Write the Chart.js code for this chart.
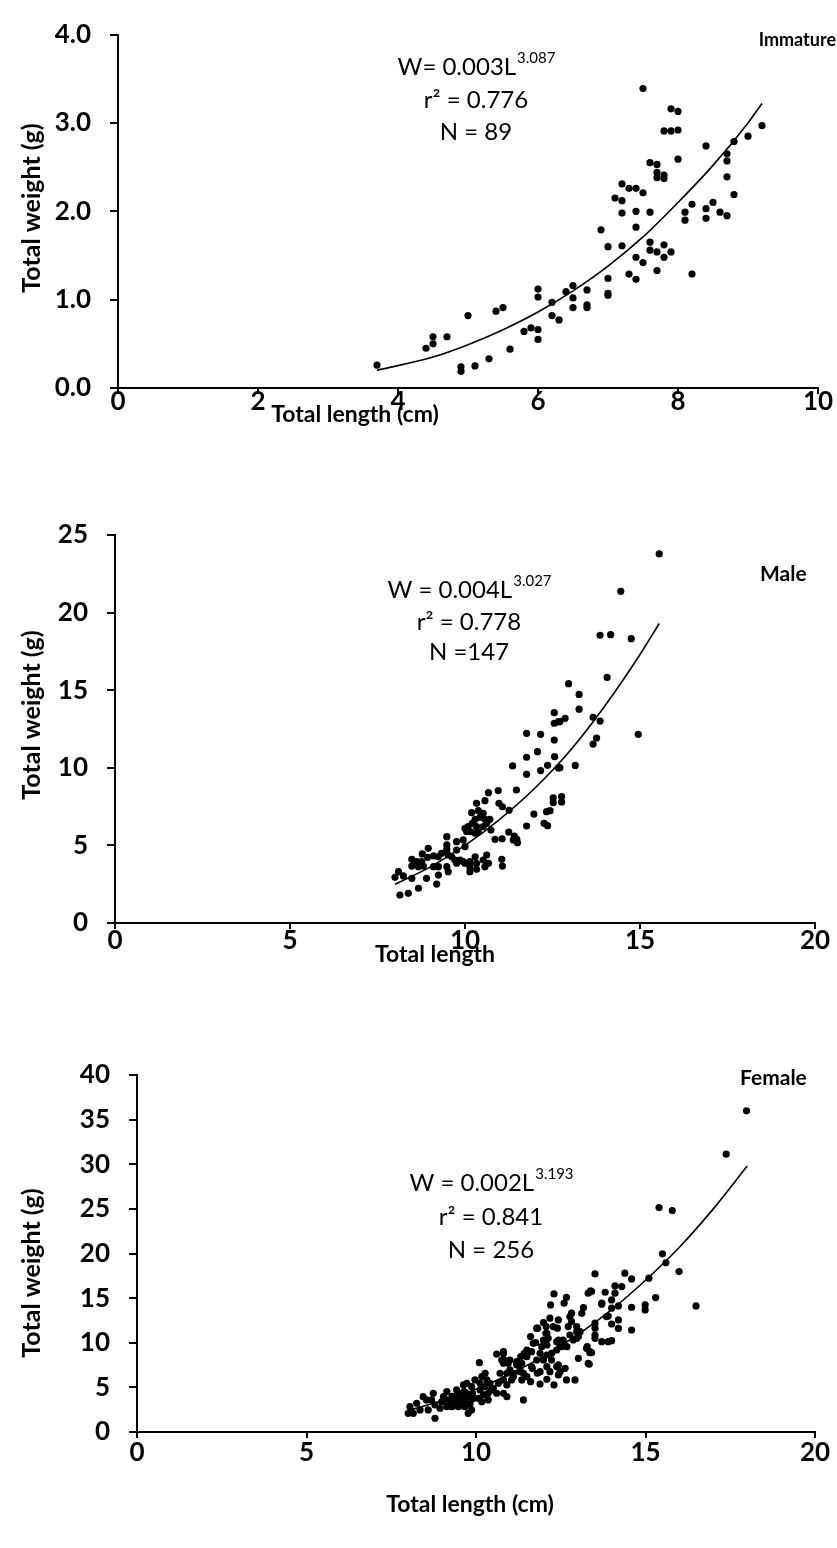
<!DOCTYPE html>
<html>
<head>
<meta charset="utf-8">
<script src="https://cdn.jsdelivr.net/npm/chart.js@4.4.1/dist/chart.umd.min.js"></script>
<style>
  body { margin: 0; background: #fff; width: 837px; height: 1548px; overflow: hidden; position: relative; }
  .panel { position: absolute; left: 0; width: 837px; }
</style>
</head>
<body>
<div class="panel" style="top:0;height:440px"><canvas id="immature"></canvas></div>
<div class="panel" style="top:470px;height:496px"><canvas id="male"></canvas></div>
<div class="panel" style="top:1000px;height:548px"><canvas id="female"></canvas></div>
<script>
// ---- data ----
// Immature
const immatureLen = [3.7,4.4,4.5,4.5,4.7,5.0,4.9,4.9,5.1,5.3,5.4,5.5,5.6,5.8,5.9,6.0,6.0,6.0,6.0,6.2,6.2,6.3,6.4,6.5,6.5,6.5,6.7,6.7,6.7,
  7.0,7.0,7.0,6.9,7.0,7.2,7.1,7.2,7.2,7.2,7.3,7.4,7.5,7.4,7.4,7.3,7.4,7.4,7.5,7.5,7.6,7.6,7.7,7.8,7.8,7.9,7.7,7.6,7.6,7.7,7.7,7.7,
  7.8,7.8,7.8,7.9,8.0,7.9,8.0,8.0,8.1,8.1,8.2,8.2,8.4,8.4,8.4,8.5,8.6,8.7,8.7,8.7,8.7,8.8,8.8,9.0,9.2]
const immatureWt = [0.26,0.45,0.50,0.58,0.58,0.82,0.24,0.19,0.25,0.33,0.87,0.91,0.44,0.64,0.68,0.66,0.55,1.03,1.12,0.97,0.82,0.77,1.09,1.16,1.02,0.91,1.11,0.94,0.91,
  1.24,1.07,1.05,1.79,1.60,1.61,2.15,2.31,2.12,1.98,2.26,2.26,2.21,2.00,1.82,1.29,1.23,1.48,1.42,3.39,1.65,1.56,1.54,1.62,1.48,1.54,1.33,1.99,2.55,2.53,2.44,2.38,
  2.41,2.37,2.91,2.91,2.92,3.16,3.13,2.59,1.99,1.90,2.08,1.29,2.74,2.03,1.92,2.10,1.99,1.95,2.65,2.57,2.39,2.19,2.79,2.85,2.97]
const immatureFitLen = [3.7,4.5,5.0,5.5,6.0,6.5,7.0,7.5,8.0,8.5,9.0,9.2]
const immatureFitWt = [0.20,0.35,0.49,0.66,0.86,1.10,1.38,1.71,2.10,2.52,3.00,3.22]

// Male
const maleLen = [15.55,14.45,13.86,14.16,14.75,14.06,12.96,13.26,13.26,12.86,12.71,13.66,13.86,13.76,13.66,14.95,13.15,12.71,
  12.55,12.55,12.67,11.76,12.16,12.55,12.07,11.76,12.56,12.36,12.67,12.16,11.76,11.36,11.47,10.95,10.67,11.26,11.97,12.33,12.43,
  11.76,12.26,12.36,12.52,12.52,12.76,12.76,11.48,11.41,11.25,11.06,10.86,
  10.33,10.57,10.97,11.07,10.19,10.38,10.52,10.43,10.57,10.29,10.21,10.09,10.00,10.05,10.33,10.38,10.52,10.62,10.71,10.74,10.29,10.17,
  11.38,11.50,9.48,9.76,9.95,8.95,9.48,9.48,9.33,9.52,9.24,9.62,9.71,9.86,10.00,8.78,8.93,9.10,8.48,8.62,8.48,8.67,8.81,8.76,
  8.10,8.24,8.00,8.48,8.90,9.24,9.48,9.52,8.67,9.19,8.14,8.38,9.76,9.95,10.14,10.14,10.14,10.33,10.33,10.52,10.57,10.67,10.29,10.62,
  11.05,11.07,10.00,9.76,9.10,9.24]
const maleWt = [23.78,21.37,18.54,18.58,18.32,15.82,15.42,14.73,13.78,13.19,12.97,13.25,13.01,11.92,11.53,12.16,10.15,10.01,
  13.55,12.87,12.97,12.22,12.16,11.79,11.04,10.68,10.72,10.16,9.99,9.82,9.58,10.12,8.57,8.53,8.40,7.26,7.02,7.17,7.24,
  6.25,6.42,6.27,8.07,7.75,8.15,7.80,5.39,5.60,5.86,5.43,5.39,
  7.71,7.88,7.71,7.49,7.11,7.24,7.06,6.81,6.68,6.68,6.42,6.21,6.10,5.88,6.21,5.88,6.21,6.42,6.68,5.99,5.78,5.88,
  5.35,5.17,5.56,5.24,5.35,4.81,5.03,4.75,4.49,4.38,4.27,4.27,4.06,4.06,3.85,4.45,4.23,4.32,4.10,3.95,3.67,3.63,3.67,3.95,
  3.31,3.03,2.94,2.88,2.88,3.09,3.63,3.31,2.24,2.51,1.80,1.91,3.85,3.95,3.95,3.63,3.31,3.85,3.46,4.06,3.63,3.85,4.27,4.38,
  4.10,3.67,4.92,4.70,3.63,3.63]
const maleFitLen = [8.0,9.0,10.0,11.0,12.0,13.0,14.0,15.0,15.55]
const maleFitWt = [2.5,3.6,5.0,6.7,8.7,11.1,14.0,17.3,19.3]

// Female
const femaleLen = [17.98,17.38,15.40,15.79,15.50,15.60,15.99,16.49,15.10,15.30,14.99,14.99,14.59,14.39,14.59,14.59,14.30,14.10,14.10,
  13.81,14.00,13.71,13.51,13.41,14.00,14.20,13.90,14.20,14.00,14.20,13.51,13.51,13.51,13.51,13.71,13.90,14.00,13.41,
  13.38,13.31,12.30,12.67,12.20,12.60,13.17,13.12,12.82,12.77,11.99,12.07,11.82,12.40,11.61,11.76,11.50,11.42,12.06,12.13,11.99,
  12.38,12.57,12.48,12.77,12.87,12.97,13.02,13.26,13.36,13.02,13.31,12.67,12.92,12.30,12.09,12.48,12.43,12.23,12.09,11.89,11.81,
  11.66,11.89,11.40,11.61,11.50,11.35,11.30,11.20,11.10,11.05,11.32,11.20,10.81,10.76,10.95,11.00,10.61,10.10,10.71,10.81,10.66,
  10.91,10.51,10.81,10.91,10.61,10.27,10.17,10.32,10.41,10.12,10.27,10.46,10.36,10.12,10.22,10.36,10.07,10.17,9.97,9.87,9.73,
  9.63,9.65,9.53,9.43,9.38,9.58,9.48,9.67,9.77,9.33,9.29,9.48,9.67,9.82,9.87,9.77,9.14,9.04,8.99,9.18,9.14,8.94,8.74,8.69,8.79,
  8.54,8.44,8.59,8.35,8.25,8.05,8.15,8.00,8.79,13.28,13.36,13.34,13.07,12.97,12.68,12.97,12.43,12.28,12.09,12.43,12.53,12.38,
  12.23,11.79,11.69,11.94,12.09,11.64,11.50,11.79,11.99,11.64,11.89,11.35,11.40,11.00,10.81,10.81,10.91,11.10,11.30,12.18,12.09,
  12.38,12.43,12.63,12.82,12.72,12.18,13.71,13.85,10.81,9.30,9.60,9.80,9.50,9.70,9.90,9.40,9.60,9.20,9.90]
const femaleWt = [35.99,31.13,25.15,24.81,19.96,18.95,17.97,14.13,17.23,15.06,14.24,13.68,17.15,17.79,13.98,11.43,16.29,16.37,15.55,
  15.66,14.80,14.32,17.71,15.73,13.87,14.13,13.00,12.56,12.10,11.60,12.19,11.63,10.87,10.50,10.12,10.12,10.23,8.89,
  15.81,15.55,15.47,15.10,14.24,14.43,13.94,13.30,13.31,12.93,12.26,11.81,11.63,11.63,10.69,10.01,9.19,8.82,11.06,10.50,10.31,
  10.12,10.31,9.56,10.87,10.31,11.24,10.69,9.38,9.00,8.26,7.70,5.83,5.83,5.27,5.91,6.76,7.51,8.07,8.63,8.82,6.58,
  7.14,5.38,3.59,5.64,6.20,5.83,6.76,7.51,6.58,5.83,8.44,7.88,8.82,8.07,7.70,6.95,8.74,7.77,6.58,5.83,5.46,
  5.27,4.90,4.34,3.96,4.34,6.58,6.20,5.83,5.46,5.46,5.08,4.71,4.34,4.71,4.15,3.59,3.78,3.40,5.83,5.08,5.46,
  5.27,4.52,4.34,4.71,3.96,3.78,3.40,3.59,4.15,3.40,2.84,2.84,2.84,3.14,2.47,2.09,4.52,3.96,3.40,3.59,2.84,2.66,4.34,3.59,3.03,
  3.59,3.96,2.47,2.47,3.22,2.84,2.09,2.09,1.54,9.56,8.89,7.59,11.24,10.50,9.56,11.81,12.56,11.81,11.06,10.31,9.56,9.19,
  8.82,11.63,9.94,9.56,9.75,9.00,8.44,8.07,8.07,7.32,6.76,7.70,6.58,8.07,7.70,9.00,6.58,6.20,6.95,6.76,7.32,
  7.32,6.39,7.14,12.37,11.81,12.75,14.43,12.93,8.15,4.00,4.00,3.90,4.20,4.40,4.30,3.70,3.30,3.20,3.70]
const femaleFitLen = [8,9,10,11,12,13,14,15,16,17,18]
const femaleFitWt = [2.4,3.5,4.8,6.5,8.5,10.9,13.7,17.0,20.7,25.0,29.8]

// axis ranges / tick steps
const immatureAxes = { xMax: 10, xStep: 2, yMax: 4, yStep: 1, yDec: 1 }
const maleAxes = { xMax: 20, xStep: 5, yMax: 25, yStep: 5, yDec: 0 }
const femaleAxes = { xMax: 20, xStep: 5, yMax: 40, yStep: 5, yDec: 0 }

const FONT = 'Lato, "Open Sans", sans-serif'

const toPoints = (xs, ys) => xs.map((x, i) => ({ x: x, y: ys[i] }))

// draws the labels, the fitted equation and the axis titles
const notesPlugin = (notes) => ({
  id: 'notes',
  afterDraw(chart) {
    const ctx = chart.ctx
    ctx.save()
    ctx.fillStyle = '#000'
    ctx.textBaseline = 'middle'

    // sex / stage label
    ctx.font = 'bold ' + notes.tag.size + 'px ' + FONT
    ctx.textAlign = notes.tag.align || 'left'
    ctx.fillText(notes.tag.text, notes.tag.x, notes.tag.y)

    // equation with superscript exponent
    ctx.font = '24px ' + FONT
    const w1 = ctx.measureText(notes.eq[0]).width
    ctx.font = '15px ' + FONT
    const w2 = ctx.measureText(notes.eq[1]).width
    let left = notes.eqX - (w1 + w2) / 2
    ctx.textAlign = 'left'
    ctx.font = '24px ' + FONT
    ctx.fillText(notes.eq[0], left, notes.eqY[0])
    ctx.font = '15px ' + FONT
    ctx.fillText(notes.eq[1], left + w1 + 1, notes.eqY[0] - 9)
    ctx.textAlign = 'center'
    ctx.font = '24px ' + FONT
    ctx.fillText(notes.eq[2], notes.eqX, notes.eqY[1])
    ctx.fillText(notes.eq[3], notes.eqX, notes.eqY[2])

    // axis titles
    ctx.font = 'bold ' + notes.xTitle.size + 'px ' + FONT
    ctx.fillText(notes.xTitle.text, notes.xTitle.x, notes.xTitle.y)
    ctx.font = 'bold 25px ' + FONT
    ctx.translate(notes.yTitle.x, notes.yTitle.y)
    ctx.rotate(-Math.PI / 2)
    ctx.fillText(notes.yTitle.text, 0, 0)
    ctx.restore()
  }
})

function makeChart(id, pts, fit, axes, box, notes) {
  const tickFont = { family: FONT, size: 26, weight: 'bold' }
  return new Chart(document.getElementById(id), {
    type: 'scatter',
    data: {
      datasets: [
        {
          data: pts,
          backgroundColor: '#000',
          borderWidth: 0,
          pointRadius: 3.6,
          pointHoverRadius: 3.6,
        },
        {
          data: fit,
          showLine: true,
          borderColor: '#000',
          borderWidth: 1.6,
          pointRadius: 0,
          cubicInterpolationMode: 'monotone',
          fill: false,
        },
      ],
    },
    options: {
      responsive: true,
      maintainAspectRatio: false,
      animation: false,
      events: [],
      layout: { padding: { top: box.top, right: box.right, left: 0, bottom: 0 } },
      plugins: { legend: { display: false }, tooltip: { enabled: false } },
      scales: {
        x: {
          type: 'linear',
          min: 0,
          max: axes.xMax,
          afterFit: (s) => { s.height = box.xH },
          ticks: { stepSize: axes.xStep, color: '#000', font: tickFont, padding: box.xPad, maxRotation: 0 },
          grid: { drawOnChartArea: false, drawTicks: true, tickLength: 6, color: '#000', lineWidth: 2 },
          border: { color: '#000', width: 2 },
        },
        y: {
          min: 0,
          max: axes.yMax,
          afterFit: (s) => { s.width = box.yW },
          ticks: {
            stepSize: axes.yStep,
            color: '#000',
            font: tickFont,
            padding: 19,
            callback: (v) => v.toFixed(axes.yDec),
          },
          grid: { drawOnChartArea: false, drawTicks: true, tickLength: 8, color: '#000', lineWidth: 2 },
          border: { color: '#000', width: 2 },
        },
      },
    },
    plugins: [notesPlugin(notes)],
  })
}

makeChart('immature',
  toPoints(immatureLen, immatureWt),
  toPoints(immatureFitLen, immatureFitWt),
  immatureAxes,
  { top: 20, right: 19, yW: 118, xH: 52, xPad: -8 },
  {
    tag: { text: 'Immature', x: 836, y: 40, size: 18, align: 'right' },
    eq: ['W= 0.003L', '3.087', 'r\u00b2 = 0.776', 'N = 89'],
    eqX: 476, eqY: [67, 100, 132],
    xTitle: { text: 'Total length (cm)', x: 355, y: 415, size: 23 },
    yTitle: { text: 'Total weight (g)', x: 32, y: 208 },
  })

makeChart('male',
  toPoints(maleLen, maleWt),
  toPoints(maleFitLen, maleFitWt),
  maleAxes,
  { top: 65, right: 22, yW: 115, xH: 43, xPad: -4 },
  {
    tag: { text: 'Male', x: 760, y: 104, size: 21 },
    eq: ['W = 0.004L', '3.027', 'r\u00b2 = 0.778', 'N =147'],
    eqX: 469, eqY: [120, 152, 182],
    xTitle: { text: 'Total length', x: 435, y: 485, size: 23 },
    yTitle: { text: 'Total weight (g)', x: 32, y: 245 },
  })

makeChart('female',
  toPoints(femaleLen, femaleWt),
  toPoints(femaleFitLen, femaleFitWt),
  femaleAxes,
  { top: 75, right: 22, yW: 137, xH: 116, xPad: -1 },
  {
    tag: { text: 'Female', x: 740, y: 78, size: 21 },
    eq: ['W = 0.002L', '3.193', 'r\u00b2 = 0.841', 'N = 256'],
    eqX: 491, eqY: [183, 217, 250],
    xTitle: { text: 'Total length (cm)', x: 470, y: 505, size: 23 },
    yTitle: { text: 'Total weight (g)', x: 32, y: 273 },
  })
</script>
</body>
</html>
